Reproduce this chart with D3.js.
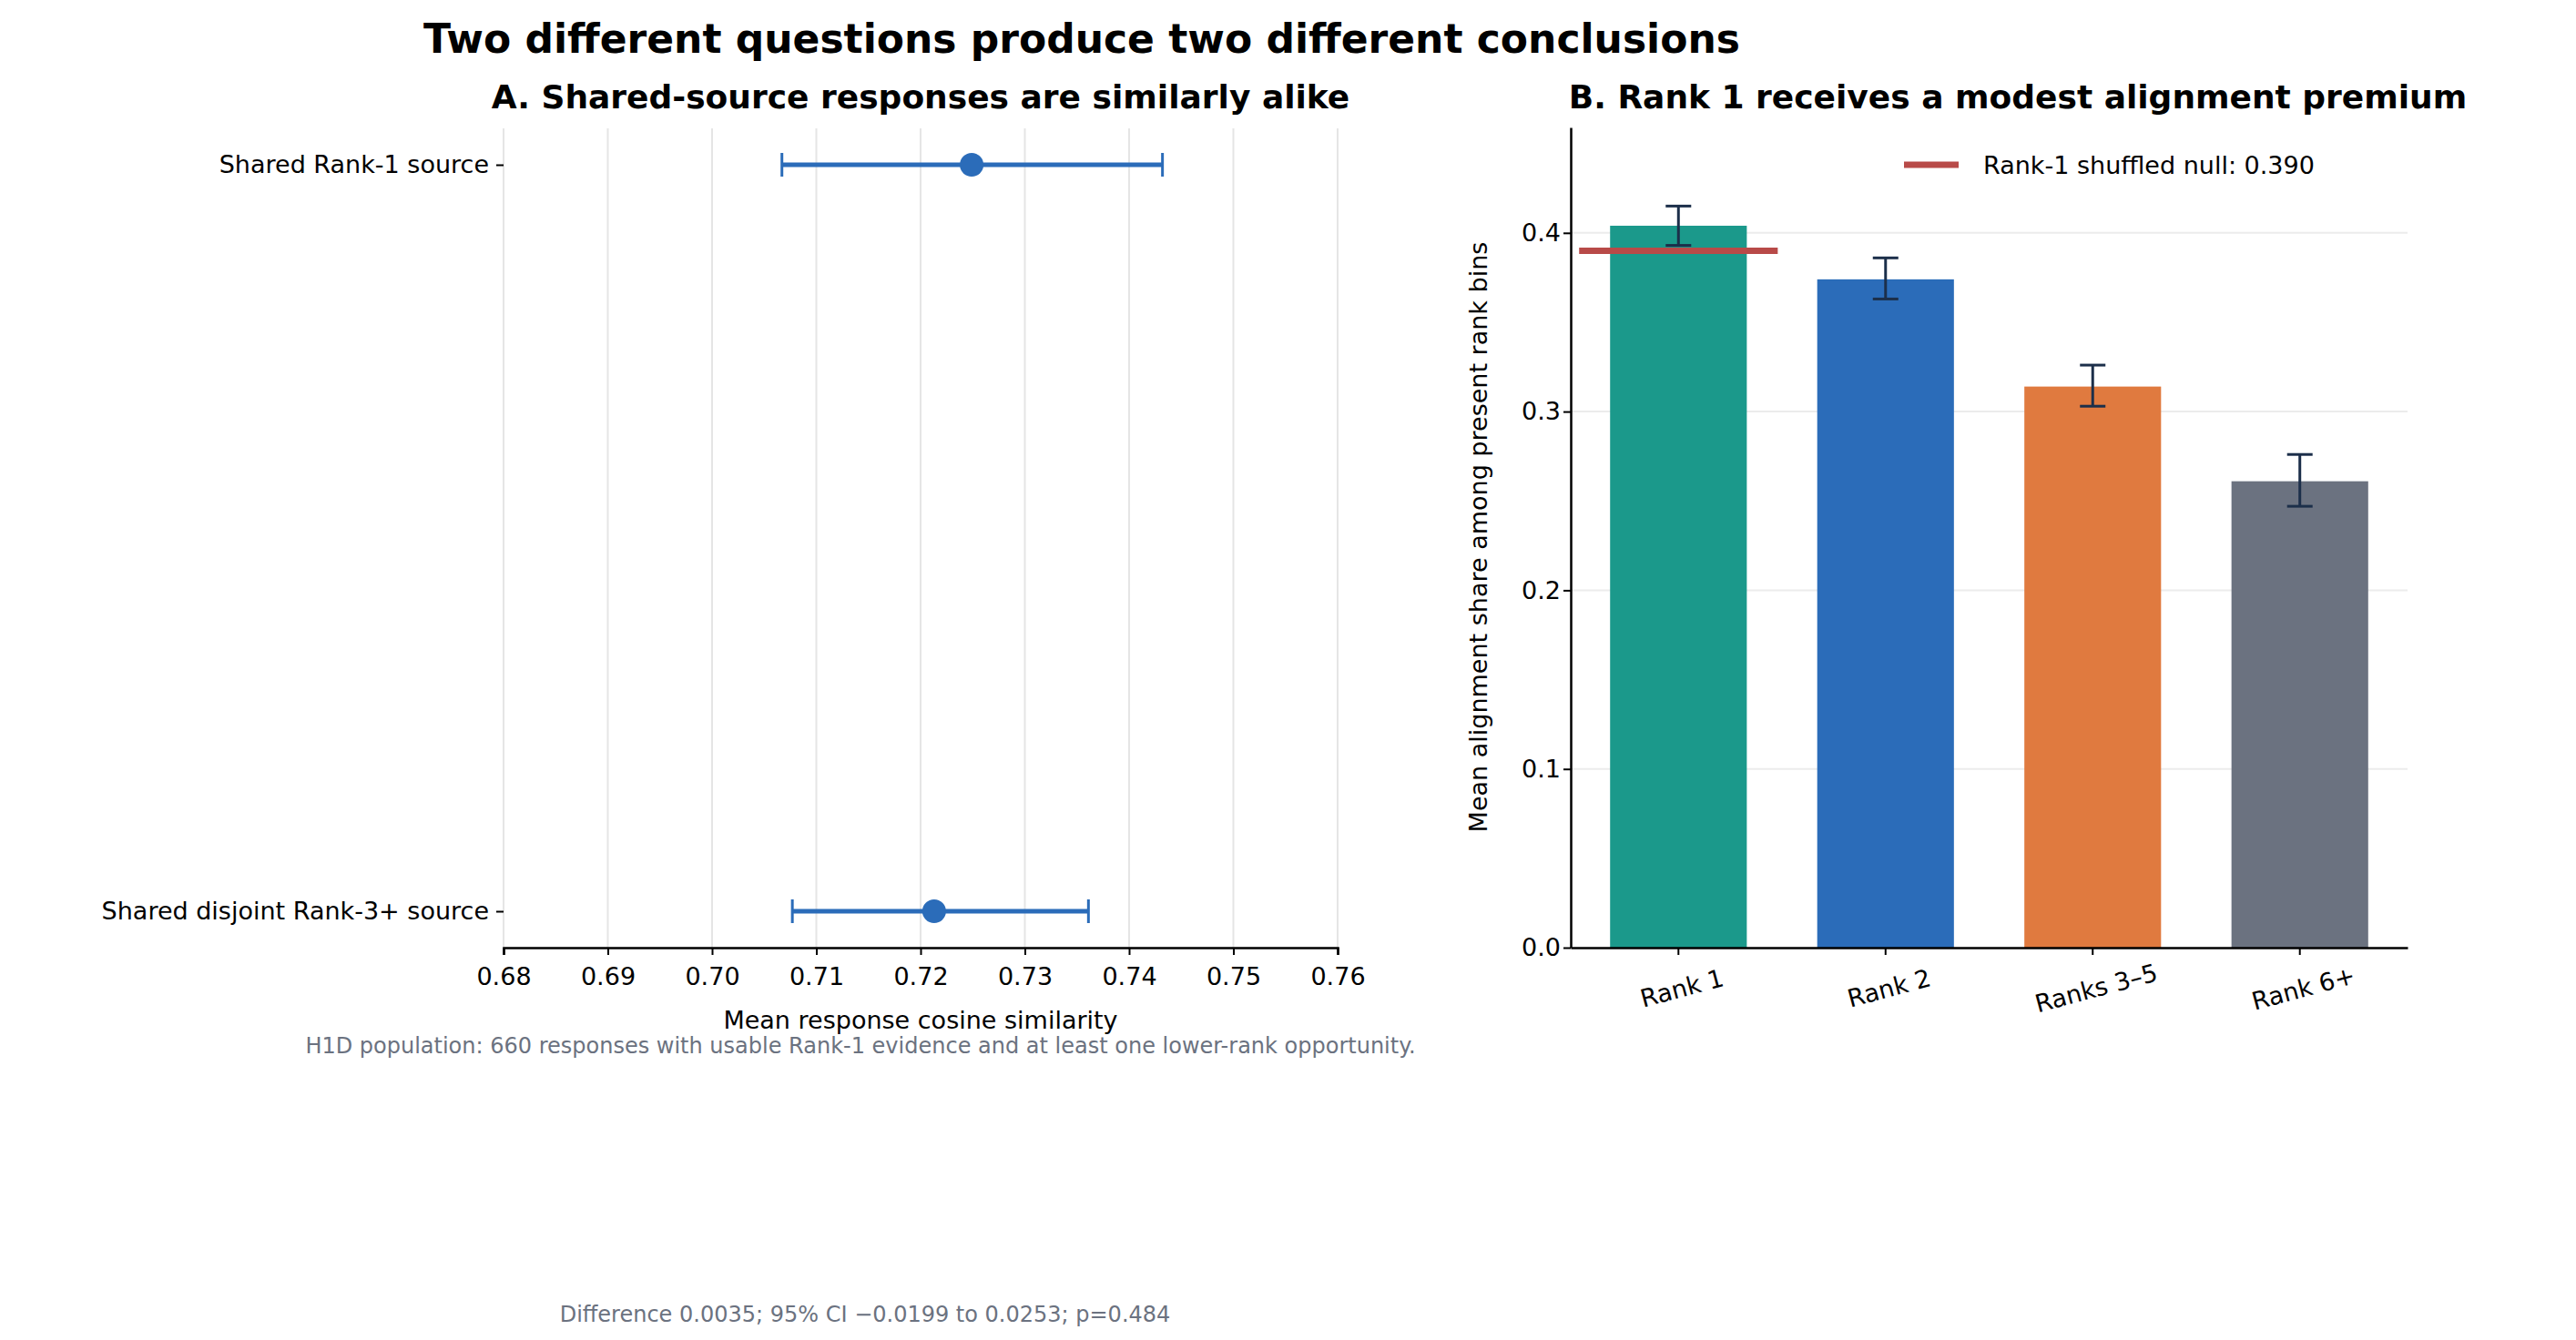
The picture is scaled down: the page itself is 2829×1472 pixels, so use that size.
<!DOCTYPE html>
<html><head><meta charset="utf-8">
<script src="https://cdn.jsdelivr.net/npm/d3@7"></script>
<style>body{margin:0;background:#fff;font-family:"DejaVu Sans",sans-serif}</style>
</head><body><svg width="2829" height="1472"></svg>
<script>
// panel A data
const groupsA = ["Shared Rank-1 source", "Shared disjoint Rank-3+ source"];
const meanA = [0.7249, 0.7213];
const lowA = [0.7067, 0.7077];
const highA = [0.7432, 0.7361];
const ticksA = [0.68, 0.69, 0.70, 0.71, 0.72, 0.73, 0.74, 0.75, 0.76];

// panel B data
const bins = ["Rank 1", "Rank 2", "Ranks 3\u20135", "Rank 6+"];
const share = [0.404, 0.374, 0.314, 0.261];
const shareLo = [0.393, 0.363, 0.303, 0.247];
const shareHi = [0.415, 0.386, 0.326, 0.276];
const binColors = ["#1b998b", "#2b6cb9", "#e07a3f", "#6b7280"];
const nullValue = 0.390;
const ticksB = [0, 0.1, 0.2, 0.3, 0.4];

const svg = d3.select("svg");
const blue = "#2b6cb9";

svg.append("text").attr("x", 1188).attr("y", 58).attr("text-anchor", "middle")
  .style("font-size", "44px").style("font-weight", "bold").text("Two different questions produce two different conclusions");

// ---- Panel A
const x = d3.scaleLinear().domain([0.68, 0.76]).range([553, 1469]);
const y = d3.scalePoint().domain(groupsA).range([181, 1001]);
const gA = svg.append("g");
gA.selectAll(".grid").data(ticksA).enter().append("line")
  .attr("x1", d => x(d)).attr("x2", d => x(d)).attr("y1", 141).attr("y2", 1041)
  .attr("stroke", "#e5e5e5").attr("stroke-width", 2);
const ax = gA.append("g").attr("transform", "translate(0,1041)")
  .call(d3.axisBottom(x).tickValues(ticksA).tickFormat(d3.format(".2f")).tickSizeOuter(0).tickSize(8));
ax.select(".domain").attr("stroke-width", 2.5);
ax.selectAll("line").attr("stroke-width", 2);
ax.selectAll("text").style("font-size", "27px").attr("dy", "1.1em").attr("font-family", "DejaVu Sans");
const ay = gA.append("g").attr("transform", "translate(553,0)")
  .call(d3.axisLeft(y).tickSize(8).tickPadding(8));
ay.select(".domain").remove();
ay.selectAll("line").attr("stroke-width", 2);
ay.selectAll("text").style("font-size", "27px").attr("font-family", "DejaVu Sans");
groupsA.forEach((g, i) => {
  const yy = y(g);
  gA.append("line").attr("x1", x(lowA[i])).attr("x2", x(highA[i])).attr("y1", yy).attr("y2", yy)
    .attr("stroke", blue).attr("stroke-width", 5);
  [lowA[i], highA[i]].forEach(v => gA.append("line").attr("x1", x(v)).attr("x2", x(v))
    .attr("y1", yy - 13).attr("y2", yy + 13).attr("stroke", blue).attr("stroke-width", 3));
  gA.append("circle").attr("cx", x(meanA[i])).attr("cy", yy).attr("r", 13).attr("fill", blue);
});
gA.append("text").attr("x", 1011).attr("y", 1130).attr("text-anchor", "middle").style("font-size", "27px")
  .text("Mean response cosine similarity");
gA.append("text").attr("x", 1011).attr("y", 119).attr("text-anchor", "middle").style("font-size", "36px")
  .style("font-weight", "bold").text("A. Shared-source responses are similarly alike");
svg.append("text").attr("x", 945).attr("y", 1157).attr("text-anchor", "middle").style("font-size", "24px")
  .attr("fill", "#6b7280").text("H1D population: 660 responses with usable Rank-1 evidence and at least one lower-rank opportunity.");
svg.append("text").attr("x", 950).attr("y", 1452).attr("text-anchor", "middle").style("font-size", "24px")
  .attr("fill", "#6b7280").text("Difference 0.0035; 95% CI \u22120.0199 to 0.0253; p=0.484");

// ---- Panel B
const xb = d3.scaleBand().domain(bins).range([1725, 2644]).paddingInner(0.34).paddingOuter(0.19);
const yb = d3.scaleLinear().domain([0, 0.459]).range([1041, 140]);
const gB = svg.append("g");
gB.selectAll(".grid").data(ticksB.slice(1)).enter().append("line")
  .attr("x1", 1725).attr("x2", 2644).attr("y1", d => yb(d)).attr("y2", d => yb(d))
  .attr("stroke", "#ececec").attr("stroke-width", 2);
gB.selectAll("rect").data(bins).enter().append("rect")
  .attr("x", d => xb(d)).attr("width", xb.bandwidth())
  .attr("y", (d, i) => yb(share[i])).attr("height", (d, i) => yb(0) - yb(share[i]))
  .attr("fill", (d, i) => binColors[i]);
bins.forEach((b, i) => {
  const cx = xb(b) + xb.bandwidth() / 2;
  const c = "#1c2f4a";
  gB.append("line").attr("x1", cx).attr("x2", cx).attr("y1", yb(shareLo[i])).attr("y2", yb(shareHi[i])).attr("stroke", c).attr("stroke-width", 3);
  [shareLo[i], shareHi[i]].forEach(v => gB.append("line").attr("x1", cx - 14).attr("x2", cx + 14)
    .attr("y1", yb(v)).attr("y2", yb(v)).attr("stroke", c).attr("stroke-width", 3));
});
const r1 = xb(bins[0]);
gB.append("line").attr("x1", r1 - 34).attr("x2", r1 + xb.bandwidth() + 34)
  .attr("y1", yb(nullValue)).attr("y2", yb(nullValue)).attr("stroke", "#b84a48").attr("stroke-width", 7);
const bx = gB.append("g").attr("transform", "translate(0,1041)")
  .call(d3.axisBottom(xb).tickSize(8).tickSizeOuter(0));
bx.select(".domain").attr("stroke-width", 2.5);
bx.selectAll("line").attr("stroke-width", 2);
bx.selectAll("text").style("font-size", "27px").attr("font-family", "DejaVu Sans")
  .attr("text-anchor", "middle").attr("transform", "translate(0,30) rotate(-15)").attr("dy", "0.5em");
const by = gB.append("g").attr("transform", "translate(1725,0)")
  .call(d3.axisLeft(yb).tickValues(ticksB).tickFormat(d3.format(".1f")).tickSize(8).tickSizeOuter(0));
by.select(".domain").attr("stroke-width", 2.5);
by.selectAll("line").attr("stroke-width", 2);
by.selectAll("text").style("font-size", "27px").attr("font-family", "DejaVu Sans");
gB.append("text").attr("transform", "translate(1633,590) rotate(-90)").attr("text-anchor", "middle")
  .style("font-size", "27px").text("Mean alignment share among present rank bins");
gB.append("text").attr("x", 2216).attr("y", 119).attr("text-anchor", "middle").style("font-size", "36px")
  .style("font-weight", "bold").text("B. Rank 1 receives a modest alignment premium");
gB.append("line").attr("x1", 2091).attr("x2", 2151).attr("y1", 181).attr("y2", 181).attr("stroke", "#b84a48").attr("stroke-width", 7);
gB.append("text").attr("x", 2178).attr("y", 191).style("font-size", "27px").text("Rank-1 shuffled null: 0.390");
</script></body></html>
